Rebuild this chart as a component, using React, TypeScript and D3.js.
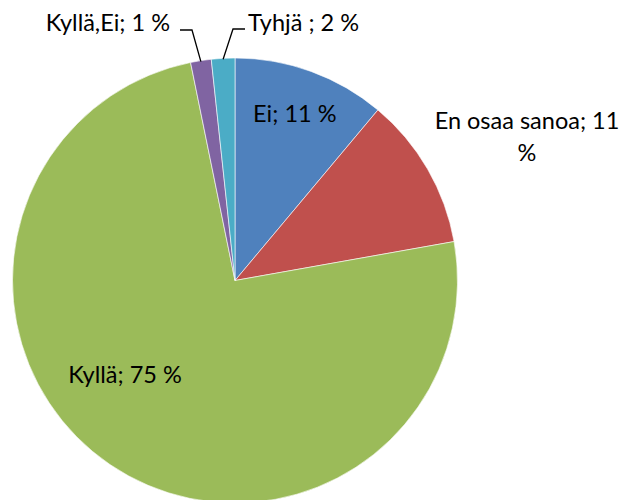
import React from "react";
import * as d3 from "d3";

const categories = ["Ei", "En osaa sanoa", "Kyllä", "Kyllä,Ei", "Tyhjä"];
const values = [11.1, 11.1, 74.6, 1.5, 1.7];
const labelTexts = ["Ei; 11 %", "En osaa sanoa; 11\n%", "Kyllä; 75 %", "Kyllä,Ei; 1 %", "Tyhjä ; 2 %"];
const colors = ["#4F81BD", "#C0504D", "#9BBB59", "#8064A2", "#4BACC6"];

export default function App() {
  const W = 626, H = 500;
  const cx = 235, cy = 280.5, R = 222.5;
  const pie = d3.pie<number>().sort(null).value((d) => d);
  const arcs = pie(values);
  const arc = d3.arc<d3.PieArcDatum<number>>().innerRadius(0).outerRadius(R);
  const font = "Lato, 'Open Sans', sans-serif";
  const fs = 23.5;

  const lab = (i: number) => {
    const a = arcs[i];
    const mid = (a.startAngle + a.endAngle) / 2;
    return { mid, x: Math.sin(mid), y: -Math.cos(mid) };
  };

  const pt = (angle: number, r: number): [number, number] => [Math.sin(angle) * r, -Math.cos(angle) * r];

  const l0 = lab(0);
  const l3 = lab(3);
  const l4 = lab(4);

  const p3 = pt(l3.mid, R);
  const p4 = pt(l4.mid, R);

  return (
    <svg width={W} height={H} style={{ position: "absolute", left: 0, top: 0, background: "#fff" }}>
      <g transform={`translate(${cx},${cy})`}>
        {arcs.map((a, i) => (
          <path key={categories[i]} d={arc(a) || ""} fill={colors[i]} stroke="#fff" strokeWidth={0.6} />
        ))}
        <text x={l0.x * 175} y={l0.y * 175 + 6} textAnchor="middle" fontFamily={font} fontSize={fs} fill="#000">
          {labelTexts[0]}
        </text>
        <text x={-110} y={102} textAnchor="middle" fontFamily={font} fontSize={fs} fill="#000">
          {labelTexts[2]}
        </text>
        <text textAnchor="middle" fontFamily={font} fontSize={fs} fill="#000">
          {labelTexts[1].split("\n").map((t, k) => (
            <tspan key={k} x={292} y={-151.5 + k * 31.7}>{t}</tspan>
          ))}
        </text>
        <polyline
          points={`${-55},${-250.5} ${-43},${-250.5} ${p3[0]},${p3[1] + 1}`}
          fill="none" stroke="#000" strokeWidth={1.3}
        />
        <polyline
          points={`${10},${-251.5} ${-2},${-251.5} ${p4[0]},${p4[1] + 1}`}
          fill="none" stroke="#000" strokeWidth={1.3}
        />
        <text x={-65} y={-250} textAnchor="end" fontFamily={font} fontSize={fs} fill="#000">
          {labelTexts[3]}
        </text>
        <text x={13} y={-250} textAnchor="start" fontFamily={font} fontSize={fs} fill="#000">
          {labelTexts[4]}
        </text>
      </g>
    </svg>
  );
}
